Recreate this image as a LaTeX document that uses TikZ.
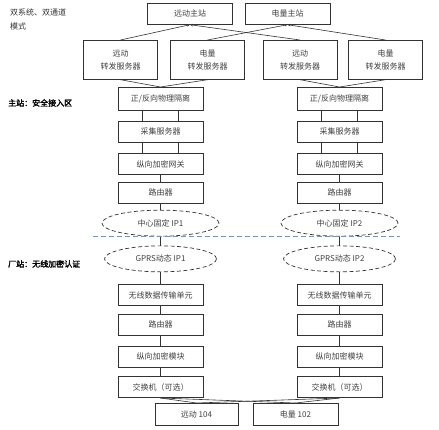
\documentclass[tikz,border=0pt]{standalone}
\usepackage{fontspec}
\newfontfamily\cjk{Noto Sans CJK SC}[AutoFakeBold=2]
\usepackage{tikz}
\usetikzlibrary{positioning, shapes.geometric, arrows.meta}
\definecolor{sepblue}{RGB}{91,155,213}
\tikzset{
	box/.style={
			draw=black!80, line width=0.7pt,
			minimum width=85pt, minimum height=21pt, inner sep=1pt,
			font=\cjk\fontsize{8}{13}\selectfont, text=black!75, align=center,
		},
	fwd/.style={box, minimum width=74pt, minimum height=39pt},
	ipnet/.style={
			draw=black!80, dash pattern=on 4pt off 2.5pt, line width=0.7pt, ellipse,
			minimum width=117pt, minimum height=26pt, inner sep=0pt,
			font=\cjk\fontsize{8}{10}\selectfont, text=black!75,
		},
	link/.style={draw=black!80, line width=0.6pt},
	uplink/.style={link, -{Stealth[length=3pt, width=2.5pt]}},
	note/.style={font=\cjk\fontsize{8}{14}\selectfont, text=black!80, align=left, anchor=north west, inner sep=0pt},
}

\begin{document}
\begin{tikzpicture}[x=1pt, y=-1pt]
	\useasboundingbox (0,0) rectangle (439,429);

	% master stations
	\node [box, anchor=north] (m1) at (190,3) {远动主站};
	\node [box, anchor=north] (m2) at (287.5,3) {电量主站};

	% forwarding servers
	\node [fwd, anchor=north] (fa) at (120.5,40) {远动\\转发服务器};
	\node [fwd, anchor=north] (fb) at (207.5,40) {电量\\转发服务器};
	\node [fwd, anchor=north] (fc) at (300,40) {远动\\转发服务器};
	\node [fwd, anchor=north] (fd) at (385.5,40) {电量\\转发服务器};

	% left chain
	\node [box, anchor=north, minimum height=23pt] (iso1) at (160.5,87) {正/反向物理隔离};
	\node [box, below=10pt of iso1] (cj1) {采集服务器};
	\node [box, below=11pt of cj1] (gw1) {纵向加密网关};
	\node [box, below=7pt of gw1] (rt1) {路由器};
	\node [ipnet, below=6pt of rt1] (ip1) {中心固定 IP1};
	\node [ipnet, below=9pt of ip1, minimum width=112pt] (gp1) {GPRS动态 IP1};
	\node [box, below=12pt of gp1] (wl1) {无线数据传输单元};
	\node [box, below=8pt of wl1] (rs1) {路由器};
	\node [box, below=10pt of rs1] (md1) {纵向加密模块};
	\node [box, below=9pt of md1] (sw1) {交换机（可选）};

	% right chain
	\node [box, anchor=north, minimum height=23pt] (iso2) at (339.5,87) {正/反向物理隔离};
	\node [box, below=10pt of iso2] (cj2) {采集服务器};
	\node [box, below=11pt of cj2] (gw2) {纵向加密网关};
	\node [box, below=7pt of gw2] (rt2) {路由器};
	\node [ipnet, below=6pt of rt2] (ip2) {中心固定 IP2};
	\node [ipnet, below=9pt of ip2, minimum width=112pt] (gp2) {GPRS动态 IP2};
	\node [box, below=12pt of gp2] (wl2) {无线数据传输单元};
	\node [box, below=8pt of wl2] (rs2) {路由器};
	\node [box, below=10pt of rs2] (md2) {纵向加密模块};
	\node [box, below=9pt of md2] (sw2) {交换机（可选）};

	% plant terminals
	\node [box, anchor=north, minimum width=83pt, minimum height=22pt] (t1) at (196.5,403) {远动 104};
	\node [box, anchor=north, minimum width=85pt, minimum height=22pt] (t2) at (295.5,403) {电量 102};

	% side notes
	\node [note] (n1) at (10,9) {双系统、双通道\\模式};
	\node [note, font=\cjk\bfseries\fontsize{8}{10}\selectfont, text=black] (n2) at (8,99) {主站：安全接入区};
	\node [note, font=\cjk\bfseries\fontsize{8}{10}\selectfont, text=black] (n3) at (8,260) {厂站：无线加密认证};

	% zone border
	\coordinate (s1) at (93,236);
	\coordinate (s2) at (400,236);
	\draw [sepblue, dash pattern=on 5pt off 3pt, line width=0.6pt] (s1) -- (s2);

	% upward links
	\draw [uplink] (fa.north) -- (m1.south);
	\draw [uplink] (fc.north) -- (m1.south);
	\draw [uplink] (fb.north) -- (m2.south);
	\draw [uplink] (fd.north) -- (m2.south);

	\draw [link] (fa.south) -- (iso1.north) -- (fb.south);
	\draw [link] (fc.south) -- (iso2.north) -- (fd.south);

	% chains
	\foreach \k in {1,2} {
		\draw [link] ([xshift=-18pt]iso\k.south) -- ([xshift=-18pt]cj\k.north);
		\draw [link] ([xshift=18pt]iso\k.south) -- ([xshift=18pt]cj\k.north);
		\draw [link] ([xshift=-18pt]cj\k.south) -- ([xshift=-18pt]gw\k.north);
		\draw [link] ([xshift=18pt]cj\k.south) -- ([xshift=18pt]gw\k.north);
		\draw [link] (gw\k) -- (rt\k) -- (ip\k) -- (gp\k) -- (wl\k) -- (rs\k) -- (md\k) -- (sw\k);
		\draw [link] (sw\k.south) -- (t1.north);
		\draw [link] (sw\k.south) -- (t2.north);
	}
\end{tikzpicture}
\end{document}
